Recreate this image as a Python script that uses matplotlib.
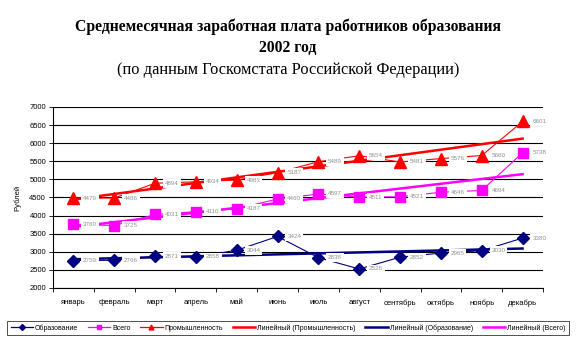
import matplotlib
matplotlib.use("Agg")
import matplotlib.pyplot as plt
import numpy as np
from matplotlib.lines import Line2D

months = ["январь", "февраль", "март", "апрель", "май", "июнь", "июль",
          "август", "сентябрь", "октябрь", "ноябрь", "декабрь"]
educ = [2759, 2766, 2871, 2858, 3044, 3424, 2838, 2526, 2852, 2965, 3030, 3380]
total = [3760, 3725, 4031, 4110, 4187, 4460, 4597, 4511, 4521, 4646, 4694, 5738]
industry = [4479, 4486, 4894, 4934, 4983, 5187, 5489, 5654, 5481, 5576, 5660, 6601]

NAVY, MAGENTA, RED = "#000080", "#ff00ff", "#ff0000"
SANS = "Liberation Sans"
SERIF = "Liberation Serif"

fig = plt.figure(figsize=(5.76, 3.42), dpi=100)
ax = fig.add_axes([53 / 576, 1 - 288 / 342, 490 / 576, 181 / 342])

x = np.arange(len(months))

# linear trends, drawn under the series
for vals, col in ((industry, RED), (educ, NAVY), (total, MAGENTA)):
    k, b = np.polyfit(x, vals, 1)
    ax.plot(x, k * x + b, color=col, lw=1.8, zorder=2)

series = [(educ, NAVY, "D", 6.5), (total, MAGENTA, "s", 7), (industry, RED, "^", 8)]
for vals, col, m, ms in series:
    ax.plot(x, vals, color=col, lw=0.8, marker=m, ms=ms, zorder=3)
    for xi, v in zip(x, vals):
        ax.annotate(str(v), (xi, v), xytext=(7, 0), textcoords="offset points",
                    ha="left", va="center", fontsize=4.5, color="#909090",
                    family=SANS, zorder=4,
                    bbox=dict(boxstyle="square,pad=0.3", fc="white", ec="none"))

ax.set_ylim(2000, 7000)
ax.set_yticks(np.arange(2000, 7001, 500))
ax.set_xlim(-0.5, 11.5)
ax.set_xticks(x)
ax.set_xticklabels(months)
ax.set_xticks(np.arange(-0.5, 12, 1), minor=True)
ax.tick_params(axis="x", which="major", length=0, pad=8)
ax.tick_params(axis="x", which="minor", length=3, width=0.6)
ax.tick_params(axis="y", length=3, width=0.6, pad=2)
for lb in ax.get_xticklabels() + ax.get_yticklabels():
    lb.set_fontsize(5.5)
    lb.set_family(SANS)
ax.grid(axis="y", color="black", lw=0.8)
ax.set_axisbelow(True)
for sp in ("top", "right"):
    ax.spines[sp].set_visible(False)
ax.spines["left"].set_linewidth(0.8)
ax.spines["bottom"].set_linewidth(0.8)
ax.set_ylabel("Рублей", fontsize=5.5, family=SANS, labelpad=6)

fig.text(0.5, 1 - 27 / 342, "Среднемесячная заработная плата работников образования",
         ha="center", va="center", fontsize=11.3, fontweight="bold", family=SERIF)
fig.text(0.5, 1 - 48 / 342, "2002 год", ha="center", va="center",
         fontsize=11.3, fontweight="bold", family=SERIF)
fig.text(0.5, 1 - 70 / 342, "(по данным Госкомстата Российской Федерации)",
         ha="center", va="center", fontsize=11.8, family=SERIF)

handles = [
    Line2D([], [], color=NAVY, lw=0.9, marker="D", ms=3),
    Line2D([], [], color=MAGENTA, lw=0.9, marker="s", ms=3),
    Line2D([], [], color=RED, lw=0.9, marker="^", ms=3.5),
    Line2D([], [], color=RED, lw=1.8),
    Line2D([], [], color=NAVY, lw=1.8),
    Line2D([], [], color=MAGENTA, lw=1.8),
]
labels = ["Образование", "Всего", "Промышленность", "Линейный (Промышленность)",
          "Линейный (Образование)", "Линейный (Всего)"]
leg = fig.legend(handles, labels, loc="center", bbox_to_anchor=(0.5, 1 - 328 / 342),
                 ncol=6, prop={"family": SANS, "size": 5},
                 frameon=True, fancybox=False, edgecolor="black",
                 handlelength=3.2, handletextpad=0.3, columnspacing=1.4,
                 borderpad=0.5)
leg.get_frame().set_linewidth(0.6)

fig.savefig("out.png", dpi=100, facecolor="white")
